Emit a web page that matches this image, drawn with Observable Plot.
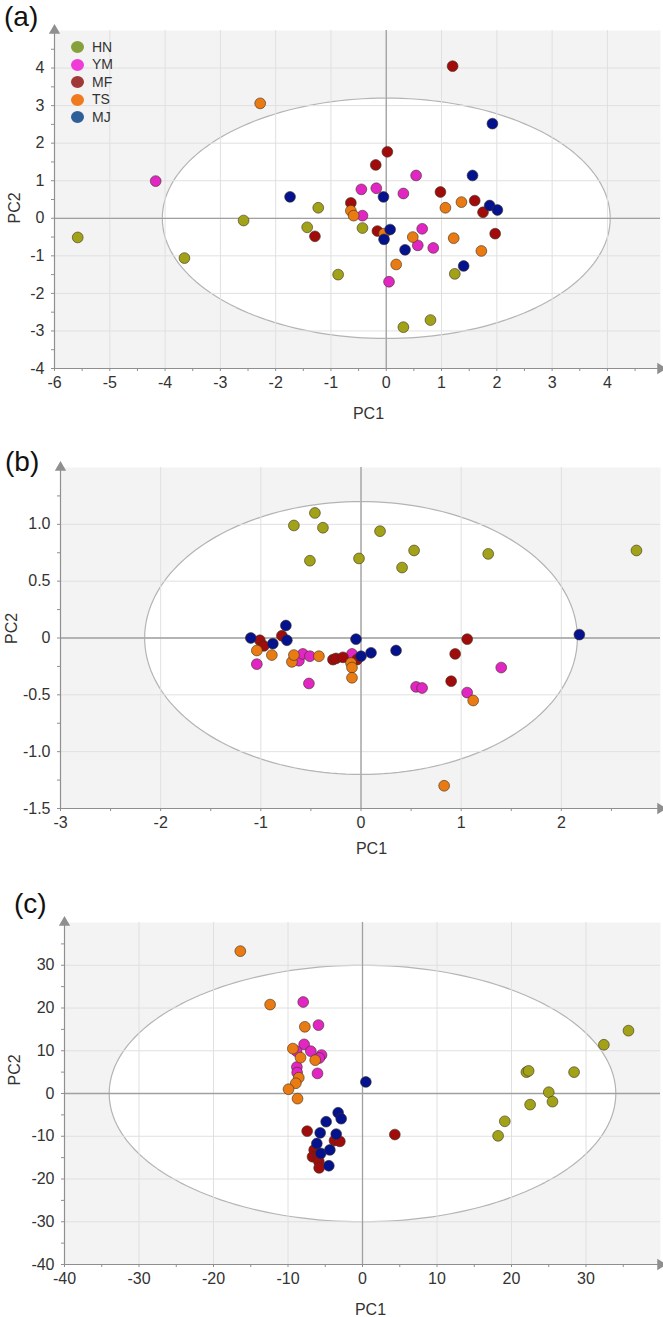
<!DOCTYPE html>
<html><head><meta charset="utf-8">
<script src="https://cdn.jsdelivr.net/npm/d3@7"></script>
<script src="https://cdn.jsdelivr.net/npm/@observablehq/plot@0.6"></script>
<style>
body{margin:0;background:#fff;font-family:"Liberation Sans",Arial,sans-serif;}
#wrap{position:relative;width:663px;height:1317px;overflow:hidden;}
.panel{position:relative;width:663px;}
.panel svg{display:block;}
.plabel{position:absolute;font-size:28px;line-height:28px;color:#111;}
.legend{position:absolute;font-size:14px;color:#333;}
.legend .it{position:absolute;white-space:nowrap;}
.legend .sw{position:absolute;width:13px;height:12px;border-radius:50%;}
</style></head><body><div id="wrap"></div><script>
// groups and colours
const groups = ["HN","YM","MF","TS","MJ"];
const pointColors = ["#a2a218","#e226c4","#a00c0c","#ea7a12","#04128e"];
const legendColors = ["#86a03c","#f03cd6","#a03838","#f07a1e","#2f5f99"];

// panel (a) scores [PC1, PC2]
const aHN = [[-5.58,-0.51],[-3.65,-1.06],[-2.58,-0.06],[-1.23,0.28],[-1.43,-0.24],[-0.87,-1.50],[-0.43,-0.26],[0.31,-2.90],[0.80,-2.71],[1.24,-1.48]];
const aYM = [[-4.17,0.99],[-0.45,0.77],[-0.18,0.80],[0.54,1.14],[0.31,0.66],[-0.43,0.07],[0.65,-0.28],[0.57,-0.72],[0.85,-0.79],[0.05,-1.69]];
const aMF = [[1.20,4.05],[0.02,1.77],[-0.19,1.42],[0.98,0.70],[-0.64,0.41],[1.60,0.47],[1.75,0.16],[1.97,-0.41],[-1.29,-0.48],[-0.16,-0.34]];
const aTS = [[-2.28,3.06],[-0.64,0.20],[-0.59,0.07],[1.07,0.28],[1.36,0.43],[-0.04,-0.41],[0.48,-0.50],[1.22,-0.53],[1.72,-0.87],[0.18,-1.23]];
const aMJ = [[-1.74,0.57],[-0.05,0.57],[1.56,1.14],[1.92,2.52],[1.87,0.34],[2.01,0.22],[0.07,-0.30],[-0.04,-0.56],[0.34,-0.84],[1.40,-1.27]];

// panel (b)
const bHN = [[-0.46,1.10],[-0.67,0.99],[-0.38,0.97],[-0.51,0.68],[-0.02,0.70],[0.19,0.94],[0.53,0.77],[0.41,0.62],[1.27,0.74],[2.75,0.77]];
const bYM = [[-1.04,-0.23],[-0.62,-0.20],[-0.58,-0.14],[-0.51,-0.16],[-0.52,-0.40],[-0.09,-0.14],[0.55,-0.43],[0.61,-0.44],[1.06,-0.48],[1.40,-0.26]];
const bMF = [[-1.01,-0.02],[-0.97,-0.07],[-0.79,0.02],[-0.28,-0.19],[-0.25,-0.18],[-0.18,-0.17],[-0.04,-0.19],[1.06,-0.01],[0.94,-0.14],[0.90,-0.38]];
const bTS = [[-1.04,-0.11],[-0.89,-0.15],[-0.69,-0.21],[-0.67,-0.15],[-0.42,-0.16],[-0.10,-0.22],[-0.09,-0.26],[-0.09,-0.35],[1.12,-0.55],[0.83,-1.30]];
const bMJ = [[-1.10,0.00],[-0.88,-0.05],[-0.75,0.11],[-0.74,-0.02],[-0.05,-0.01],[0.00,-0.16],[0.10,-0.13],[0.35,-0.11],[2.18,0.03]];

// panel (c)
const cHN = [[22.0,5.0],[22.3,5.3],[28.4,5.0],[32.4,11.4],[35.7,14.7],[25.0,0.3],[25.5,-1.9],[22.5,-2.6],[19.1,-6.5],[18.2,-9.9]];
const cYM = [[-7.96,21.4],[-5.91,16.0],[-7.83,11.5],[-8.86,9.9],[-6.94,9.9],[-5.5,9.0],[-5.8,8.3],[-8.81,6.2],[-8.77,4.9],[-6.04,4.7]];
const cMF = [[-7.43,-8.8],[-3.76,-11.0],[-3.04,-11.2],[-6.3,-13.8],[-6.49,-13.2],[-6.71,-14.8],[-5.91,-14.5],[-5.86,-15.9],[-5.82,-17.4],[4.34,-9.6]];
const cTS = [[-16.4,33.3],[-12.4,20.8],[-7.74,15.6],[-9.35,10.5],[-8.32,8.4],[-6.35,7.8],[-8.55,3.7],[-8.95,2.4],[-9.93,1.0],[-8.72,-1.2]];
const cMJ = [[0.45,2.7],[-3.27,-4.5],[-2.86,-5.9],[-4.88,-6.6],[-5.68,-9.2],[-3.53,-9.5],[-6.13,-11.7],[-5.6,-14.0],[-4.38,-13.2],[-4.52,-16.9]];

// tick labels
const aXTicks = [-6,-5,-4,-3,-2,-1,0,1,2,3,4];
const aYTicks = [-4,-3,-2,-1,0,1,2,3,4];
const bXTicks = [-3,-2,-1,0,1,2];
const bYTicks = [-1.5,-1.0,-0.5,0,0.5,1.0];
const cXTicks = [-40,-30,-20,-10,0,10,20,30];
const cYTicks = [-40,-30,-20,-10,0,10,20,30];

// Hotelling ellipse semi-axes [PC1, PC2]
const aEllipse = [4.05, 3.2];
const bEllipse = [2.16, 1.2];
const cEllipse = [34.0, 30.0];

function rows(sets){
  const out=[];
  sets.forEach((s,i)=>s.forEach(p=>out.push({g:groups[i],x:p[0],y:p[1]})));
  return out;
}
const fmt = d => d===0 ? "0" : String(d);
const fmtB = d => d===0 ? "0" : d.toFixed(1);
const none = () => "";

function panel(cfg){
  const [ea,eb]=cfg.ellipse;
  const ell=d3.range(0,361,2).map(t=>({x:ea*Math.cos(t*Math.PI/180),y:eb*Math.sin(t*Math.PI/180)}));
  const xd=cfg.xDomain, yd=cfg.yDomain;
  const axisColor="#8f8f8f";
  return Plot.plot({
    width:663, height:cfg.height,
    marginTop:cfg.mt, marginBottom:cfg.mb, marginLeft:cfg.ml, marginRight:cfg.mr,
    style:{fontFamily:"'Liberation Sans', Arial, sans-serif", fontSize:"16px", color:"#333", background:"white", overflow:"visible"},
    x:{domain:xd, label:null},
    y:{domain:yd, label:null},
    color:{domain:groups, range:pointColors},
    marks:[
      Plot.frame({fill:"#f3f3f3", stroke:null}),
      Plot.line(ell,{x:"x",y:"y",fill:"white",stroke:"#b4b4b4",strokeWidth:1.2}),
      Plot.gridX(cfg.xGrid,{stroke:"#e0e0e0",strokeOpacity:1,strokeWidth:1}),
      Plot.gridY(cfg.yGrid,{stroke:"#e0e0e0",strokeOpacity:1,strokeWidth:1}),
      Plot.ruleX([0],{stroke:"#a0a0a0",strokeWidth:1.3}),
      Plot.ruleY([0],{stroke:"#a0a0a0",strokeWidth:1.3}),
      Plot.ruleX([xd[0]],{stroke:axisColor,strokeWidth:1.2}),
      Plot.ruleY([yd[0]],{stroke:axisColor,strokeWidth:1.2}),
      Plot.axisX(cfg.xMinor,{tickSize:3,stroke:axisColor,tickFormat:none,label:null}),
      Plot.axisY(cfg.yMinor,{tickSize:3,stroke:axisColor,tickFormat:none,label:null}),
      Plot.axisX(cfg.xTicks,{tickSize:0,tickPadding:8,tickFormat:cfg.xFmt,fill:"#333",fontSize:16,label:null}),
      Plot.axisY(cfg.yTicks,{tickSize:0,tickPadding:10,tickFormat:cfg.yFmt,fill:"#333",fontSize:16,label:null}),
      Plot.dot([xd[1]],{x:d=>d,y:()=>yd[0],symbol:"triangle",rotate:90,r:4.2,fill:axisColor,stroke:null}),
      Plot.dot([yd[1]],{x:()=>xd[0],y:d=>d,symbol:"triangle",r:4.2,fill:axisColor,stroke:null}),
      Plot.dot(cfg.data,{x:"x",y:"y",fill:"g",r:5.4,stroke:"#3d3020",strokeOpacity:0.75,strokeWidth:0.8}),
      Plot.text(["PC1"],{frameAnchor:"bottom",text:d=>d,dy:cfg.pc1dy,dx:cfg.pc1dx,fontSize:16,fill:"#333"}),
      Plot.text(["PC2"],{frameAnchor:"left",text:d=>d,rotate:-90,dx:cfg.pc2dx,dy:cfg.pc2dy,fontSize:16,fill:"#333"})
    ]
  });
}

const wrap=document.getElementById("wrap");
const cfgs=[
  {id:"(a)", data:rows([aHN,aYM,aMF,aTS,aMJ]), xDomain:[-6,4.96], yDomain:[-4,5], height:430, mt:30, mb:62, ml:54, mr:3,
   xTicks:aXTicks, yTicks:aYTicks, xGrid:aXTicks, yGrid:aYTicks, xMinor:d3.range(-6,5,0.5), yMinor:d3.range(-4,5,0.5),
   xFmt:fmt, yFmt:fmt, ellipse:aEllipse, pc1dy:50, pc1dx:11, pc2dx:-40, pc2dy:24, lab:{left:4,top:3}, legend:true},
  {id:"(b)", data:rows([bHN,bYM,bMF,bTS,bMJ]), xDomain:[-3,2.99], yDomain:[-1.5,1.5], height:440, mt:37, mb:62, ml:60, mr:3,
   xTicks:bXTicks, yTicks:bYTicks, xGrid:bXTicks, yGrid:bYTicks, xMinor:d3.range(-3,3,0.5), yMinor:d3.range(-1.5,1.5,0.25),
   xFmt:fmt, yFmt:fmtB, ellipse:bEllipse, pc1dy:45, pc1dx:11, pc2dx:-49, pc2dy:6, lab:{left:5,top:18}},
  {id:"(c)", data:rows([cHN,cYM,cMF,cTS,cMJ]), xDomain:[-40,40], yDomain:[-40,40], height:447, mt:52, mb:53, ml:64, mr:3,
   xTicks:cXTicks, yTicks:cYTicks, xGrid:cXTicks, yGrid:cYTicks, xMinor:d3.range(-40,40,5), yMinor:d3.range(-40,40,5),
   xFmt:fmt, yFmt:fmt, ellipse:cEllipse, pc1dy:50, pc1dx:8, pc2dx:-50, pc2dy:-8, lab:{left:14,top:20}}
];
for(const cfg of cfgs){
  const div=document.createElement("div");
  div.className="panel";
  div.appendChild(panel(cfg));
  const lab=document.createElement("div");
  lab.className="plabel"; lab.textContent=cfg.id;
  lab.style.left=cfg.lab.left+"px"; lab.style.top=cfg.lab.top+"px";
  div.appendChild(lab);
  if(cfg.legend){
    const lg=document.createElement("div");
    lg.className="legend"; lg.style.left="0px"; lg.style.top="0px";
    groups.forEach((g,i)=>{
      const y=47+i*17.5;
      const sw=document.createElement("div");
      sw.className="sw"; sw.style.background=legendColors[i];
      sw.style.left=(77-6.5)+"px"; sw.style.top=(y-6)+"px";
      const t=document.createElement("div");
      t.className="it"; t.textContent=g; t.style.left="92px"; t.style.top=(y-8.5)+"px";
      lg.appendChild(sw); lg.appendChild(t);
    });
    div.appendChild(lg);
  }
  wrap.appendChild(div);
}
</script></body></html>
